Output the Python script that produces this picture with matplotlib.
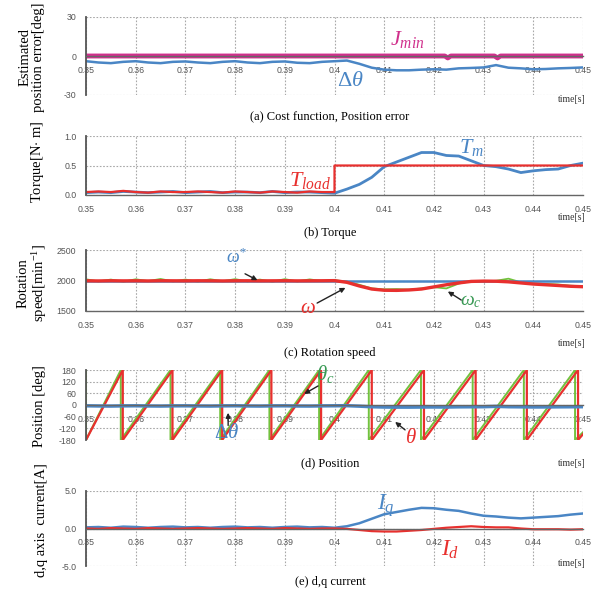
import numpy as np
import matplotlib.pyplot as plt

plt.rcParams['font.family'] = 'Liberation Serif'
plt.rcParams['mathtext.fontset'] = 'custom'
plt.rcParams['mathtext.rm'] = 'Liberation Serif'
plt.rcParams['mathtext.it'] = 'Liberation Serif:italic'

# sample grid, 0.35 .. 0.45 s every 2.5 ms
t_grid = np.round(np.linspace(0.35, 0.45, 41), 4)

# (a) position error [deg] and cost function
dtheta = [-4.0, -5.0, -5.5, -4.5, -4.0, -5.0, -5.5, -4.5, -4.2, -5.0, -5.5,
          -4.5, -4.0, -5.0, -5.5, -4.5, -4.2, -5.2, -5.5, -4.5, -4.0,
          -3.5, -6.0, -9.0, -10.5, -11.0, -11.0, -10.5, -10.2, -10.5, -9.5,
          -9.2, -8.8, -7.0, -9.0, -9.5, -10.2, -10.0, -9.5, -9.2, -8.8]
jmin_t = [0.35, 0.4222, 0.4228, 0.4234, 0.4322, 0.4328, 0.4334, 0.45]
jmin = [0, 0, -1.5, 0, 0, -1.5, 0, 0]

# (b) torque [N m]
tload_pre = [0.05, 0.06, 0.05, 0.07, 0.05, 0.04, 0.06, 0.05, 0.05, 0.06, 0.05,
             0.04, 0.06, 0.05, 0.04, 0.06, 0.05, 0.04, 0.06, 0.05, 0.05]
tload_step = 0.5
tm = [0.04, 0.05, 0.04, 0.06, 0.05, 0.04, 0.05, 0.06, 0.04, 0.05, 0.06,
      0.04, 0.05, 0.05, 0.04, 0.06, 0.04, 0.05, 0.05, 0.04, 0.03,
      0.10, 0.18, 0.30, 0.48, 0.56, 0.64, 0.72, 0.72, 0.67, 0.66,
      0.58, 0.50, 0.48, 0.44, 0.38, 0.41, 0.43, 0.44, 0.50, 0.54]

# (c) rotation speed [min^-1]
omega_ref = 2000
omega = [1995, 1993, 1996, 1994, 1995, 1993, 1996, 1995, 1994, 1996, 1995,
         1993, 1995, 1996, 1994, 1995, 1996, 1994, 1995, 1996, 1998,
         1970, 1910, 1860, 1840, 1838, 1845, 1860, 1895, 1930, 1960,
         1985, 1990, 1988, 1978, 1960, 1942, 1930, 1918, 1905, 1898]
omega_c = [2020, 1985, 2015, 1980, 2020, 1990, 2025, 1985, 2015, 1982, 2020,
           1988, 2022, 1985, 2015, 1980, 2022, 1985, 2018, 1990, 2005,
           1980, 1930, 1870, 1855, 1860, 1850, 1870, 1890, 1870, 1950,
           1990, 1985, 1995, 2030, 1970, 1950, 1945, 1935, 1915, 1905]

# (d) position: wrap instants of the sawtooth (-180 -> 180)
theta_wraps = [0.35, 0.3574, 0.3674, 0.3774, 0.3873, 0.3973, 0.4075,
               0.4180, 0.4284, 0.4387, 0.4490]
theta_c_wraps = [0.35, 0.3570, 0.3670, 0.3770, 0.3869, 0.3969, 0.4069,
                 0.4174, 0.4278, 0.4381, 0.4484]
theta_end = -150
theta_c_end = -140

# (e) d,q current [A]
iq = [0.15, 0.20, 0.10, 0.25, 0.20, 0.10, 0.20, 0.25, 0.15, 0.20, 0.10,
      0.20, 0.25, 0.15, 0.20, 0.10, 0.20, 0.25, 0.15, 0.20, 0.10,
      0.30, 0.70, 1.30, 1.90, 2.20, 2.50, 2.75, 2.70, 2.50, 2.35,
      2.00, 1.70, 1.60, 1.45, 1.35, 1.45, 1.55, 1.65, 1.85, 2.00]
id_ = [0.00, -0.05, 0.05, 0.00, -0.05, 0.05, 0.00, -0.05, 0.00, 0.05, 0.00,
       -0.05, 0.00, 0.05, 0.00, -0.05, 0.05, 0.00, -0.05, 0.00, 0.00,
       -0.05, -0.20, -0.35, -0.40, -0.40, -0.30, -0.20, -0.05, 0.10, 0.20,
       0.30, 0.20, 0.15, 0.15, 0.00, -0.10, -0.10, -0.10, -0.15, -0.10]

x_ticks = [0.35, 0.36, 0.37, 0.38, 0.39, 0.4, 0.41, 0.42, 0.43, 0.44, 0.45]
x_labels = ['0.35', '0.36', '0.37', '0.38', '0.39', '0.4', '0.41', '0.42',
            '0.43', '0.44', '0.45']

BLUE = '#4a86c5'
RED = '#e8302e'
PINK = '#d0308c'
GREEN = '#72c23e'

W, H = 605, 592
fig = plt.figure(figsize=(W / 100, H / 100), dpi=100)


def make_ax(top, bottom, ylim, yticks, ylabels, xcross):
    ax = fig.add_axes([86 / W, 1 - bottom / H, (583 - 86) / W, (bottom - top) / H])
    ax.set_xlim(0.35, 0.45)
    ax.set_ylim(*ylim)
    ax.set_xticks(x_ticks)
    ax.set_xticklabels(x_labels)
    ax.set_yticks(yticks)
    ax.set_yticklabels(ylabels)
    ax.grid(True, color='#a8a8a8', linestyle=(0, (1.5, 1.5)), linewidth=0.8)
    for s in ['top', 'right']:
        ax.spines[s].set_visible(False)
    ax.spines['left'].set_color('#555555')
    ax.spines['left'].set_linewidth(1.3)
    ax.spines['bottom'].set_position(('data', xcross))
    ax.spines['bottom'].set_color('#666666')
    ax.spines['bottom'].set_linewidth(1.0)
    ax.tick_params(length=0, labelsize=6.3, labelcolor='#555555', pad=7)
    for lab in ax.get_xticklabels() + ax.get_yticklabels():
        lab.set_family('Liberation Sans')
    ax.set_axisbelow(True)
    return ax


def arrow(ax, tip, tail):
    ax.annotate('', xy=tip, xytext=tail,
                arrowprops=dict(arrowstyle='-|>', color='#222222', lw=1.0,
                                mutation_scale=7, shrinkA=0, shrinkB=0))


# (a)
ax = make_ax(17, 95, (-30, 30), [-30, 0, 30], ['-30', '0', '30'], 0)
ax.plot(jmin_t, jmin, color=PINK, lw=3.5)
ax.plot(t_grid, dtheta, color=BLUE, lw=1.8)
ax.text(0.4146, 12.7, r'$J_{min}$', color=PINK, fontsize=16, ha='center', va='center')
ax.text(0.4031, -20, r'$\Delta\theta$', color=BLUE, fontsize=16, ha='center', va='center')

# (b)
ax = make_ax(136, 195, (0, 1.0), [0, 0.5, 1.0], ['0.0', '0.5', '1.0'], 0)
load_t = np.concatenate([t_grid[:21], [0.4, 0.45]])
load_v = np.concatenate([tload_pre, [tload_step, tload_step]])
ax.plot(t_grid, tm, color=BLUE, lw=2.0)
ax.plot(load_t, load_v, color=RED, lw=1.6)
ax.text(0.3951, 0.25, r'$T_{load}$', color=RED, fontsize=16, ha='center', va='center')
ax.text(0.4275, 0.80, r'$T_m$', color=BLUE, fontsize=16, ha='center', va='center')

# (c)
ax = make_ax(250, 311, (1500, 2500), [1500, 2000, 2500], ['1500', '2000', '2500'], 1500)
ax.plot(t_grid, omega_c, color=GREEN, lw=1.3)
ax.plot([0.35, 0.45], [omega_ref, omega_ref], color=BLUE, lw=1.8)
ax.plot(t_grid, omega, color=RED, lw=2.4)
ax.text(0.3804, 2380, r'$\omega^{*}$', color=BLUE, fontsize=13, ha='center', va='center')
arrow(ax, (0.3845, 2005), (0.3820, 2110))
ax.text(0.3947, 1540, r'$\omega$', color=RED, fontsize=15, ha='center', va='center')
arrow(ax, (0.4022, 1880), (0.3965, 1630))
ax.text(0.4275, 1650, r'$\omega_c$', color='#3a9a55', fontsize=14, ha='center', va='center')
arrow(ax, (0.4228, 1820), (0.4255, 1680))

# (d)
ax = make_ax(370, 440, (-180, 180), [-180, -120, -60, 0, 60, 120, 180],
             ['-180', '-120', '-60', '0', '60', '120', '180'], 0)


def saw(wraps, end_val):
    # first ramp starts at the left edge, each later wrap drops 180 -> -180
    ts, vs = [wraps[0]], [-180]
    for w in wraps[1:]:
        ts += [w, w]
        vs += [180, -180]
    ts.append(0.45)
    vs.append(end_val)
    return ts, vs


tc, vc = saw(theta_c_wraps, theta_c_end)
ax.plot(tc, vc, color=GREEN, lw=1.4)
ax.plot([0.35, 0.35], [-180, 180], color=GREEN, lw=1.4)
tr, vr = saw(theta_wraps, theta_end)
ax.plot(tr, vr, color=RED, lw=1.6)
ax.plot(t_grid, dtheta, color=BLUE, lw=2.5)
ax.text(0.3981, 160, r'$\theta_c$', color='#3a9a55', fontsize=15, ha='center', va='center')
arrow(ax, (0.3939, 57), (0.3967, 98))
ax.text(0.3782, -148, r'$\Delta\theta$', color=BLUE, fontsize=15, ha='center', va='center')
arrow(ax, (0.3786, -40), (0.3786, -105))
ax.text(0.4154, -170, r'$\theta$', color=RED, fontsize=15, ha='center', va='center')
arrow(ax, (0.4122, -87), (0.4142, -128))

# (e)
ax = make_ax(491, 566, (-5, 5), [-5, 0, 5], ['-5.0', '0.0', '5.0'], 0)
ax.plot(t_grid, iq, color=BLUE, lw=1.8)
ax.plot(t_grid, id_, color=RED, lw=1.6)
ax.text(0.4104, 3.0, r'$I_q$', color=BLUE, fontsize=17, ha='center', va='center')
ax.text(0.4232, -2.85, r'$I_d$', color=RED, fontsize=17, ha='center', va='center')

# captions, time labels, y labels
captions = ['(a) Cost function, Position error', '(b) Torque', '(c) Rotation speed',
            '(d) Position', '(e) d,q current']
cap_y = [117, 233, 353, 463, 582]
time_y = [100, 218, 343, 463, 563]
for c, y in zip(captions, cap_y):
    fig.text(330 / W, 1 - y / H, c, fontsize=9, ha='center', va='center')
for y in time_y:
    fig.text(572 / W, 1 - y / H, 'time[s]', fontsize=7, ha='center', va='center', color='#333333')

ylabels = ['Estimated\nposition error[deg]', 'Torque[N$\\cdot$ m]',
           'Rotation\nspeed[min$^{-1}$]', 'Position [deg]', 'd,q axis  current[A]']
ylab_x = [32, 38, 33, 40, 42]
ylab_y = [57, 162, 283, 406, 520]
for s, x, y in zip(ylabels, ylab_x, ylab_y):
    fig.text(x / W, 1 - y / H, s, fontsize=10.5, rotation=90, ha='center', va='center',
             linespacing=1.0)

fig.savefig('out.png', dpi=100)
